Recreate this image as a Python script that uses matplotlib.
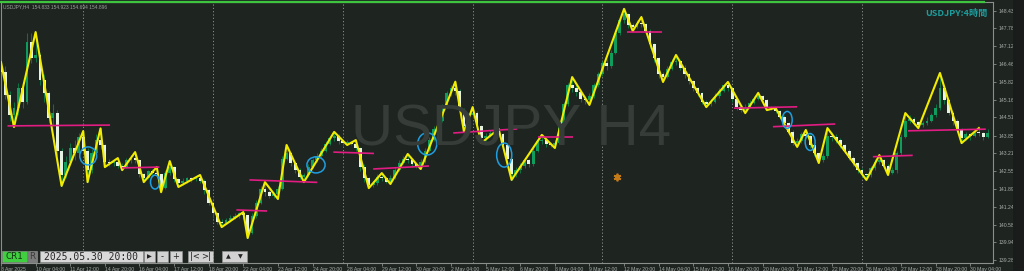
import matplotlib
matplotlib.use("Agg")
import matplotlib.pyplot as plt
from matplotlib.patches import Ellipse, Rectangle

# ---------------- data ----------------
first_open = 146.55
closes = [
    146.20,145.35,144.60,144.85,145.60,145.10,147.30,146.70,146.80,145.90,
    145.40,144.50,144.70,143.30,142.40,142.90,143.40,143.20,143.80,143.30,
    142.60,143.20,143.70,143.50,142.90,142.85,142.90,142.75,142.70,142.95,
    143.05,142.95,142.45,142.30,142.55,142.50,142.45,141.95,142.50,142.70,
    142.25,142.10,142.20,142.30,142.25,142.30,142.20,141.85,141.40,141.00,
    140.70,140.65,140.75,140.85,140.90,141.00,140.95,140.30,140.90,141.40,
    141.90,141.80,141.65,141.70,141.90,143.00,143.20,142.85,142.60,142.35,
    142.40,142.70,142.95,143.10,143.30,143.55,143.75,143.85,143.65,143.60,
    143.62,143.55,143.40,142.70,142.30,142.05,142.10,142.35,142.30,142.15,
    142.30,142.60,142.85,143.00,142.95,142.80,142.75,142.90,143.30,143.70,
    144.10,144.40,144.90,145.40,145.60,145.50,144.80,144.20,144.60,144.70,
    144.20,143.75,143.85,143.95,144.00,143.90,143.50,143.00,142.45,142.60,
    142.75,142.95,142.80,143.30,143.65,143.70,143.55,143.50,143.60,144.30,
    145.00,145.70,145.60,145.45,145.20,145.15,145.30,145.70,146.10,146.50,
    146.40,146.90,147.60,148.10,148.30,147.90,147.85,148.00,147.95,147.70,
    147.20,146.70,146.10,146.00,146.30,146.55,146.60,146.35,146.10,145.85,
    145.60,145.40,145.10,145.00,145.10,145.30,145.50,145.70,145.60,145.20,
    144.90,144.80,144.90,145.05,145.20,145.30,145.15,144.90,144.85,144.75,
    144.55,144.30,144.00,143.60,143.65,143.90,143.85,143.50,143.20,142.95,
    143.10,143.85,143.80,143.70,143.50,143.30,143.05,142.85,142.60,142.45,
    142.40,142.65,142.90,142.95,142.75,142.50,142.60,143.20,143.80,144.40,
    144.45,144.35,144.25,144.30,144.40,144.60,144.85,145.60,145.15,144.70,
    144.40,144.10,143.75,143.90,143.85,144.00,143.95,143.80,143.95,
]
highs = [
    146.55,146.40,145.50,145.10,145.80,145.75,147.60,147.60,147.65,146.90,
    146.10,145.50,145.00,144.80,143.40,143.10,143.60,143.70,143.95,144.02,
    143.40,143.35,143.90,144.12,143.55,143.00,142.98,143.03,142.85,143.05,
    143.15,143.25,143.00,142.50,142.60,142.62,142.70,142.45,142.60,142.92,
    142.75,142.30,142.30,142.35,142.35,142.38,142.41,142.25,141.90,141.45,
    141.05,140.80,140.85,140.95,141.00,141.05,141.05,140.95,141.00,141.50,
    142.00,142.15,141.85,141.80,142.00,143.10,143.51,143.25,142.90,142.65,
    142.50,142.80,143.05,143.20,143.40,143.65,143.85,143.99,143.90,143.70,
    143.68,143.65,143.69,143.45,142.80,142.35,142.20,142.45,142.48,142.35,
    142.40,142.70,142.95,143.10,143.18,143.00,142.85,143.00,143.40,143.80,
    144.20,144.50,145.00,145.50,145.70,145.83,145.55,144.85,144.70,144.90,
    144.75,144.25,143.95,144.05,144.05,144.10,143.95,143.55,143.05,142.70,
    142.85,143.05,143.00,143.40,143.75,143.88,143.75,143.60,143.70,144.40,
    145.10,145.80,146.00,145.75,145.50,145.30,145.40,145.80,146.20,146.60,
    146.65,147.00,147.70,148.20,148.50,148.35,148.00,148.10,148.20,148.00,
    147.75,147.25,146.75,146.20,146.40,146.65,146.81,146.65,146.45,146.15,
    145.90,145.65,145.45,145.15,145.20,145.40,145.60,145.75,145.82,145.65,
    145.25,144.95,145.00,145.15,145.30,145.42,145.35,145.20,144.95,144.87,
    144.80,144.60,144.35,144.05,143.75,144.00,144.06,143.90,143.55,143.25,
    143.20,144.13,144.00,143.90,143.75,143.55,143.35,143.10,142.90,142.65,
    142.50,142.75,143.00,143.14,143.00,142.80,142.70,143.30,143.90,144.68,
    144.60,144.55,144.40,144.40,144.55,144.70,145.00,146.15,145.65,145.20,
    144.75,144.45,144.15,144.00,143.95,144.10,144.13,144.00,144.10,
]
lows = [
    146.00,145.20,144.40,144.17,144.60,144.85,145.00,146.50,146.55,145.70,
    145.10,144.30,144.20,143.10,142.01,142.30,142.80,142.95,143.10,143.20,
    142.15,142.50,143.10,143.35,142.70,142.75,142.75,142.65,142.59,142.65,
    142.85,142.85,142.35,142.15,142.25,142.40,142.35,141.78,141.90,142.40,
    142.15,141.97,142.05,142.10,142.15,142.20,142.10,141.70,141.30,140.85,
    140.60,140.50,140.60,140.70,140.80,140.85,140.80,140.10,140.25,140.85,
    141.35,141.65,141.55,141.55,141.53,141.85,142.95,142.75,142.50,142.25,
    142.15,142.35,142.65,142.90,143.05,143.25,143.50,143.65,143.55,143.51,
    143.51,143.50,143.30,142.55,142.15,141.93,141.98,142.05,142.20,142.10,
    142.08,142.25,142.55,142.80,142.85,142.70,142.65,142.63,142.85,143.25,
    143.65,144.05,144.35,144.85,145.30,145.35,144.60,143.99,144.10,144.50,
    144.05,143.58,143.65,143.80,143.85,143.80,143.40,142.90,142.23,142.35,
    142.50,142.65,142.70,142.75,143.25,143.55,143.45,143.42,143.40,143.55,
    144.25,144.95,145.45,145.30,145.10,145.00,144.98,145.25,145.65,146.05,
    146.25,146.35,146.85,147.55,148.00,147.80,147.69,147.80,147.85,147.60,
    147.05,146.55,145.95,145.82,145.95,146.25,146.45,146.25,145.95,145.75,
    145.50,145.30,145.00,144.90,144.95,145.05,145.25,145.45,145.50,145.10,
    144.80,144.72,144.68,144.85,145.00,145.15,145.05,144.79,144.80,144.70,
    144.45,144.20,143.90,143.50,143.44,143.60,143.75,143.40,143.10,142.85,
    142.90,143.05,143.65,143.60,143.40,143.20,142.95,142.75,142.50,142.35,
    142.23,142.35,142.60,142.80,142.65,142.41,142.45,142.50,143.15,143.75,
    144.30,144.25,144.13,144.18,144.25,144.35,144.55,144.80,145.00,144.60,
    144.25,144.00,143.58,143.70,143.70,143.80,143.85,143.70,143.75,
]

zz_bars = [0,3,8,14,19,20,23,24,27,28,31,33,36,37,39,41,46,51,56,57,
           61,64,66,70,77,80,82,85,88,90,94,97,105,107,109,111,115,118,125,128,
           132,136,144,146,148,153,156,163,168,172,175,177,179,184,186,189,191,200,203,205,
           209,212,217,222,226]
zz_prices = [146.55,144.17,147.65,142.01,144.02,142.15,144.12,142.70,143.03,142.59,
             143.25,142.15,142.70,141.78,142.92,141.97,142.41,140.50,141.05,140.10,
             142.15,141.53,143.51,142.15,143.99,143.51,143.69,141.93,142.48,142.08,
             143.18,142.63,145.83,143.99,144.90,143.58,144.10,142.23,143.88,143.40,
             146.00,144.98,148.50,147.69,148.20,145.82,146.81,144.90,145.82,144.68,
             145.42,144.79,144.87,143.44,144.06,142.85,144.13,142.23,143.14,142.41,
             144.68,144.13,146.15,143.58,144.13]

# horizontal (pink) levels: start bar, start price, end bar, end price
lvl_b0 = [1.5, 28.0, 54.4, 57.4, 86.0, 76.8, 104.5, 124.1, 144.7, 169.4, 178.4, 201.5, 209.6]
lvl_p0 = [144.21, 142.67, 141.13, 142.23, 142.63, 143.25, 143.95, 143.81, 147.66, 144.86, 144.18, 143.08, 144.03]
lvl_b1 = [25.2, 36.6, 61.5, 73.1, 98.9, 86.2, 119.3, 132.2, 152.8, 184.0, 192.8, 210.7, 227.6]
lvl_p1 = [144.24, 142.70, 141.09, 142.14, 142.74, 143.20, 144.10, 143.81, 147.66, 144.91, 144.28, 143.13, 144.09]

# hand-drawn blue marks: centre bar, centre price, width (bars), height (price)
mark_b = [20.15, 35.6, 72.8, 98.5, 116.3, 181.7, 187.0]
mark_p = [143.11, 142.15, 142.78, 143.55, 143.14, 144.43, 143.62]
mark_w = [3.9, 2.1, 4.2, 4.4, 3.5, 2.3, 2.3]
mark_h = [0.66, 0.51, 0.59, 0.81, 0.88, 0.62, 0.62]

icon_bar = [142.4]
icon_price = [142.34]

sep_bars = [19, 49, 79, 109, 139, 169, 199]

date_bars = list(range(0, 225, 8))
date_labels = ["8 Apr 2025", "10 Apr 04:00", "11 Apr 12:00", "14 Apr 20:00", "16 Apr 04:00",
               "17 Apr 12:00", "18 Apr 20:00", "22 Apr 04:00", "23 Apr 12:00", "24 Apr 20:00",
               "28 Apr 04:00", "29 Apr 12:00", "30 Apr 20:00", "2 May 04:00", "5 May 12:00",
               "6 May 20:00", "8 May 04:00", "9 May 12:00", "12 May 20:00", "14 May 04:00",
               "15 May 12:00", "16 May 20:00", "20 May 04:00", "21 May 12:00", "22 May 20:00",
               "26 May 04:00", "27 May 12:00", "28 May 20:00", "30 May 04:00"]

price_ticks = [148.433, 147.788, 147.128, 146.468, 145.823, 145.163, 144.518, 143.858,
               143.213, 142.553, 141.893, 141.248, 140.588, 139.943, 139.283]

# ---------------- drawing ----------------
BG = "#1e2521"
BULL = "#0f9c5c"
BEAR = "#e6f3e2"
WICK = "#0d7040"
AXC = "#8a8f8c"
LBL = "#a8aca9"
SANS = "Liberation Sans"

fig = plt.figure(figsize=(10.24, 2.71), dpi=100, facecolor=BG)
ax = fig.add_axes([1/1024, 8/271, 992/1024, 261/271])
ax.set_facecolor(BG)
ax.set_xlim(0.053, 229.26)
ax.set_ylim(139.184, 148.752)

n = len(closes)
xs = list(range(n))
opens = [first_open] + closes[:-1]

# watermark
fig.text(511/1024, 1 - 131/271, "USDJPY H4", fontsize=42, family=SANS,
         color="#363d39", ha="center", va="center", zorder=0.5)

# separators
ax.vlines(sep_bars, 139.184, 148.752, colors=AXC, linestyles=(0, (1.2, 2.2)), lw=0.7, zorder=1)

# candles
ax.vlines(xs, lows, highs, colors=WICK, lw=0.75, zorder=2)
bottoms = [min(o, c) for o, c in zip(opens, closes)]
heights = [max(abs(c - o), 0.02) for o, c in zip(opens, closes)]
cols = [BULL if c >= o else BEAR for o, c in zip(opens, closes)]
ax.bar(xs, heights, bottom=bottoms, width=0.66, color=cols, linewidth=0, zorder=3)

# zigzag
ax.plot(zz_bars, zz_prices, color="#f2ec00", lw=1.5, zorder=4, solid_joinstyle="round")

# pink levels
for b0, p0, b1, p1 in zip(lvl_b0, lvl_p0, lvl_b1, lvl_p1):
    ax.plot([b0, b1], [p0, p1], color="#e21c82", lw=1.2, zorder=5, solid_capstyle="butt")

# blue marks
for b, p, w, h in zip(mark_b, mark_p, mark_w, mark_h):
    ax.add_patch(Ellipse((b, p), w, h, fill=False, edgecolor="#1f9ee0", lw=1.1, zorder=6))

# orange icon
ax.plot(icon_bar, icon_price, linestyle="none", marker=(6, 2, 0), ms=5.5, mew=1.3,
        color="#c27a18", zorder=6)

# axes styling
for s in ["left", "right", "bottom", "top"]:
    ax.spines[s].set_color(AXC)
    ax.spines[s].set_linewidth(0.8)
ax.yaxis.tick_right()
ax.set_yticks(price_ticks)
ax.set_yticklabels([f"{v:.3f}" for v in price_ticks])
ax.tick_params(axis="y", direction="out", length=2.5, width=0.6, color=AXC,
               labelcolor=LBL, labelsize=3.7, pad=1.5)
ax.set_xticks(date_bars)
ax.set_xticklabels(date_labels)
ax.tick_params(axis="x", direction="out", length=2, width=0.6, color=AXC,
               labelcolor=LBL, labelsize=3.7, pad=0.6)
for lab in ax.get_xticklabels() + ax.get_yticklabels():
    lab.set_fontfamily(SANS)
for lab in ax.get_xticklabels():
    lab.set_ha("left")

# ---------------- overlay (window decorations) ----------------
ov = fig.add_axes([0, 0, 1, 1], zorder=10)
ov.set_xlim(0, 1024)
ov.set_ylim(271, 0)
ov.axis("off")
ov.patch.set_alpha(0)

ov.plot([0, 985], [2.0, 2.0], color="#3fc43f", lw=1.6, solid_capstyle="butt")
ov.add_patch(Rectangle((1013, 0), 11, 271, color="#191c1b", lw=0))

ov.text(3, 6.6, "USDJPY,H4  154.833 154.923 154.694 154.896", fontsize=3.5, family=SANS,
        color="#9aa09c", va="center", ha="left")
ov.text(987, 13.5, "USDJPY:4時間", ha="right", va="center", color="#1c9c9c",
        fontsize=6.6, fontweight="bold", family=["Noto Sans CJK JP", "DejaVu Sans"])

# bottom control panel
def box(x, w, fc):
    ov.add_patch(Rectangle((x, 251), w, 11, facecolor=fc, edgecolor="#9a9a9a", lw=0.4))

box(2, 25, "#3fcf3f")
ov.text(14.5, 256.8, "CR1", ha="center", va="center", fontsize=6.3, color="#123512",
        family="DejaVu Sans")
box(28, 9, "#7b7b7b")
ov.text(32.5, 256.8, "R", ha="center", va="center", fontsize=6.3, color="#3a3a3a",
        family="DejaVu Sans")
box(40, 103, "#d9d9d9")
ov.text(91.5, 256.8, "2025.05.30 20:00", ha="center", va="center", fontsize=7.0,
        color="#262626", family="DejaVu Sans Mono")
box(144, 11, "#d2d2d2")
ov.text(149.5, 256.8, "▶", ha="center", va="center", fontsize=4.5, color="#222222",
        family="DejaVu Sans")
box(157, 11, "#d2d2d2")
ov.text(162.5, 256.5, "-", ha="center", va="center", fontsize=6, color="#222222",
        family="DejaVu Sans")
box(170, 12, "#d2d2d2")
ov.text(176, 256.8, "+", ha="center", va="center", fontsize=6, color="#222222",
        family="DejaVu Sans")
box(188, 25, "#d2d2d2")
ov.text(195, 256.8, "|<", ha="center", va="center", fontsize=6, color="#222222",
        family="DejaVu Sans")
ov.text(206, 256.8, ">|", ha="center", va="center", fontsize=6, color="#222222",
        family="DejaVu Sans")
box(222, 25, "#d2d2d2")
ov.text(228.5, 256.8, "▲", ha="center", va="center", fontsize=4.5, color="#222222",
        family="DejaVu Sans")
ov.text(240.5, 256.8, "▼", ha="center", va="center", fontsize=4.5, color="#222222",
        family="DejaVu Sans")

fig.savefig("out.png", dpi=100, facecolor=BG)
